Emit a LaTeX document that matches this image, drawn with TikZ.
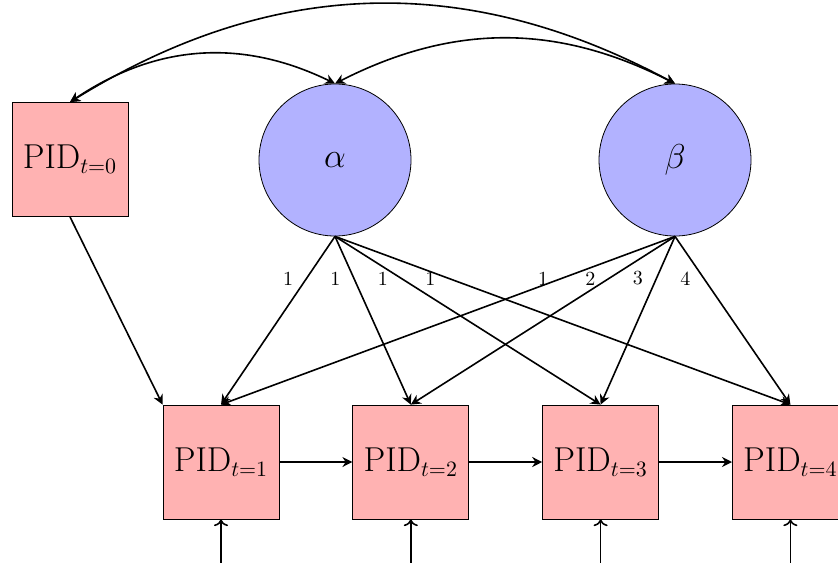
\documentclass[tikz,border=0pt]{standalone}
\usepackage{amsmath}
\usetikzlibrary{positioning, arrows.meta}
\tikzset{
	pidbox/.style={draw, fill=red!30, minimum width=58pt, minimum height=57pt, font=\fontsize{16}{19}\selectfont},
	latent/.style={draw, circle, fill=blue!30, minimum size=76pt, font=\fontsize{16}{19}\selectfont},
	regr/.style={thick, -{Stealth[length=5pt, width=5pt]}},
	covar/.style={thick, {Stealth[length=5pt, width=5pt]}-{Stealth[length=5pt, width=5pt]}},
	inarrow/.style={thick, ->},
	load/.style={pos=.25, left=3pt}
}

\begin{document}
\begin{tikzpicture}[x=1pt, y=1pt]
		\useasboundingbox (0,0) rectangle (419,-281);
		% latente Variablen
		\node[latent] (alpha) at (167.5,-80) {$\alpha$};
		\node[latent] (beta) at (337.5,-80) {$\beta$};
		% Messzeitpunkte
		\node[pidbox] (pid0) at (35,-79.75) {$\mathrm{PID}_{t=0}$};
		\node[pidbox] (pid1) at (110.5,-231) {$\mathrm{PID}_{t=1}$};
		\node[pidbox, right=36.5pt of pid1] (pid2) {$\mathrm{PID}_{t=2}$};
		\node[pidbox, right=36.5pt of pid2] (pid3) {$\mathrm{PID}_{t=3}$};
		\node[pidbox, right=36.5pt of pid3] (pid4) {$\mathrm{PID}_{t=4}$};
		\coordinate[below=30pt of pid1] (u1);
		\coordinate[below=30pt of pid2] (u2);
		\coordinate[below=30pt of pid3] (u3);
		\coordinate[below=30pt of pid4] (u4);
		% Ladungen
		\draw[regr](alpha.south)--node[load]{1}(pid1.north);
		\draw[regr](alpha.south)--node[load]{1}(pid2.north);
		\draw[regr](alpha.south)--node[load]{1}(pid3.north);
		\draw[regr](alpha.south)--node[load]{1}(pid4.north);
		\draw[regr](beta.south)--node[load]{1}(pid1.north);
		\draw[regr](beta.south)--node[load]{2}(pid2.north);
		\draw[regr](beta.south)--node[load]{3}(pid3.north);
		\draw[regr](beta.south)--node[load]{4}(pid4.north);
		% autoregressive Pfade
		\draw[regr](pid0.south)--(pid1.north west);
		\draw[regr](pid1)--(pid2);
		\draw[regr](pid2)--(pid3);
		\draw[regr](pid3)--(pid4);
		\draw[inarrow](u1)--(pid1.south);
		\draw[inarrow](u2)--(pid2.south);
		\draw[inarrow](u3)--(pid3.south);
		\draw[inarrow](u4)--(pid4.south);
		% Kovarianzen
		\draw[covar](pid0.north) to[bend left=30] (alpha.north);
		\draw[covar](alpha.north) to[bend left=27] (beta.north);
		\draw[covar](pid0.north) to[bend left=30] (beta.north);
	\end{tikzpicture}
\end{document}
